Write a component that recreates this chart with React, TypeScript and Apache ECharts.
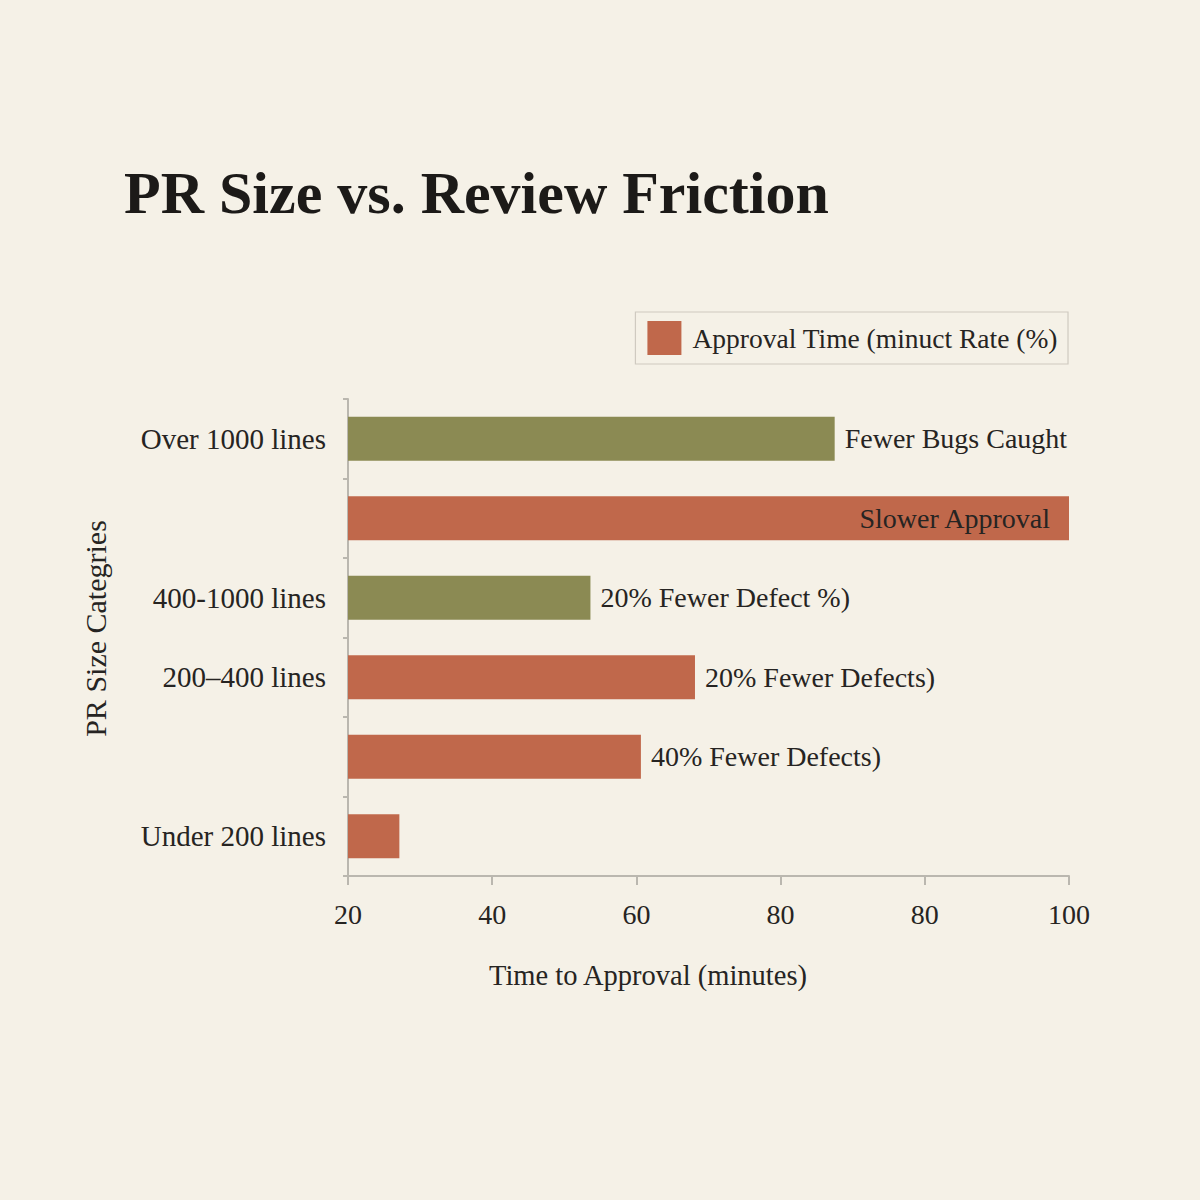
import React, { useEffect, useRef } from "react";
import * as echarts from "echarts";

const titleText = "PR Size vs. Review Friction";
const seriesName = "Approval Time (minuct Rate (%)";
// bottom -> top
const categories = ["Under 200 lines", "", "200–400 lines", "400-1000 lines", "", "Over 1000 lines"];
const approvalValues = [25.7, 52.5, 58.5, 46.9, 100, 74];
const barLabels = ["", "40% Fewer Defects)", "20% Fewer Defects)", "20% Fewer Defect %)", "Slower Approval", "Fewer Bugs Caught"];
const barKinds = ["time", "time", "time", "defect", "time", "defect"];
const tickValues = [20, 36, 52, 68, 84, 100];
const tickLabels = ["20", "40", "60", "80", "80", "100"];

const RED = "#C0684B";
const OLIVE = "#8B8A53";
const BG = "#F5F1E7";
const AXIS = "#BAB7AF";
const TEXT = "#262422";
const FONT = "'Liberation Serif', 'Times New Roman', serif";

export default function App() {
  const ref = useRef<HTMLDivElement>(null);
  useEffect(() => {
    if (!ref.current) return;
    const chart = echarts.init(ref.current, undefined, { renderer: "svg" });
    const data = approvalValues.map((v, i) => {
      const isTop = barLabels[i] === "Slower Approval";
      return {
        value: v,
        itemStyle: { color: barKinds[i] === "defect" ? OLIVE : RED },
        label: {
          show: barLabels[i] !== "",
          position: isTop ? "insideRight" : "right",
          distance: isTop ? 19 : 10,
          formatter: barLabels[i],
        },
      };
    });
    chart.setOption({
      animation: false,
      backgroundColor: BG,
      textStyle: { fontFamily: FONT, color: TEXT },
      title: {
        text: titleText,
        left: 119,
        top: 158,
        textStyle: { fontFamily: FONT, fontSize: 60, fontWeight: "bold", color: "#1c1a18" },
      },
      legend: {
        right: 132,
        top: 312,
        orient: "horizontal",
        icon: "rect",
        itemWidth: 34,
        itemHeight: 34,
        padding: [9, 10, 9, 12],
        borderColor: "#CFCAC0",
        borderWidth: 1.2,
        backgroundColor: "rgba(0,0,0,0)",
        textStyle: { fontFamily: FONT, fontSize: 27.5, color: TEXT, padding: [0, 0, 0, 6] },
        data: [{ name: seriesName, itemStyle: { color: RED } }],
      },
      grid: { left: 348, right: 131, top: 399, bottom: 324, containLabel: false },
      xAxis: {
        type: "value",
        min: 20,
        max: 100,
        name: "Time to Approval (minutes)",
        nameLocation: "middle",
        nameGap: 85,
        nameTextStyle: { fontFamily: FONT, fontSize: 28.5, color: TEXT, padding: [0, 121, 0, 0] },
        splitLine: { show: false },
        axisLine: { show: true, lineStyle: { color: AXIS, width: 2 } },
        axisTick: { show: true, length: 9, customValues: tickValues, lineStyle: { color: AXIS, width: 2 } },
        axisLabel: {
          customValues: tickValues,
          margin: 24,
          fontFamily: FONT,
          fontSize: 28,
          color: TEXT,
          formatter: (v: number) => {
            const idx = tickValues.indexOf(v);
            return idx >= 0 ? tickLabels[idx] : "";
          },
        },
      },
      yAxis: {
        type: "category",
        data: categories,
        name: "PR Size Categries",
        nameLocation: "middle",
        nameGap: 238,
        nameRotate: 90,
        nameTextStyle: { fontFamily: FONT, fontSize: 30, color: TEXT, padding: [0, 0, 0, 18] },
        axisLine: { show: true, lineStyle: { color: AXIS, width: 2 } },
        axisTick: { show: true, length: 5, lineStyle: { color: AXIS, width: 2 } },
        axisLabel: { margin: 22, fontFamily: FONT, fontSize: 29, color: TEXT },
        splitLine: { show: false },
      },
      series: [
        {
          name: seriesName,
          type: "bar",
          barWidth: 44,
          itemStyle: { color: RED },
          label: { fontFamily: FONT, fontSize: 28, color: TEXT },
          data,
        },
      ],
    });
    return () => chart.dispose();
  }, []);
  return (
    <div
      ref={ref}
      style={{ position: "fixed", left: 0, top: 0, width: 1200, height: 1200, background: BG }}
    />
  );
}
